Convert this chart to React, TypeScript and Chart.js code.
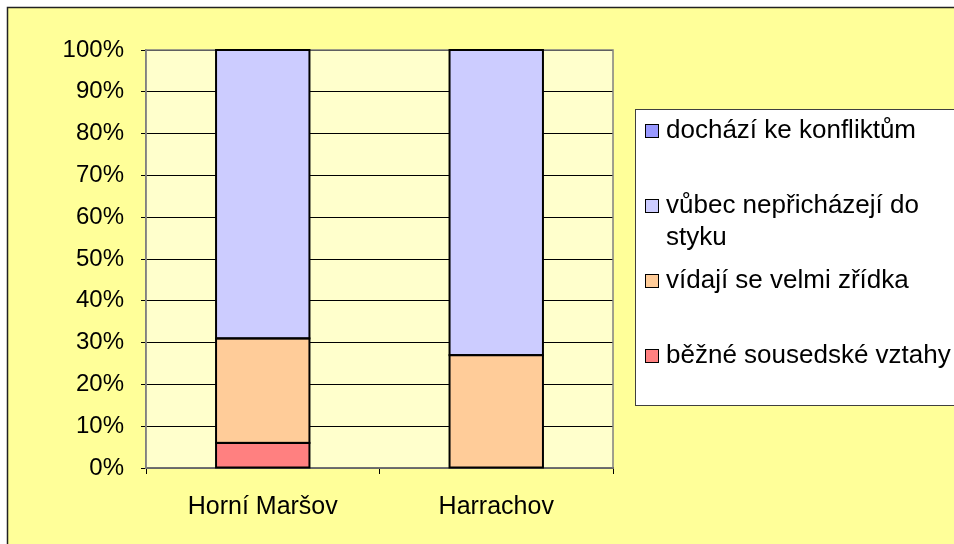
import React, { useEffect, useRef } from "react";
import { Chart, registerables } from "chart.js";

Chart.register(...registerables);

const categories = ["Horní Maršov", "Harrachov"];
const seriesNames = [
  "běžné sousedské vztahy",
  "vídají se velmi zřídka",
  "vůbec nepřicházejí do styku",
  "dochází ke konfliktům",
];
const bezne = [6, 0];
const vidaji = [25, 27];
const vubec = [69, 73];
const dochazi = [0, 0];
const seriesColors = ["#FF8080", "#FFCC99", "#CCCCFF", "#9999FF"];
const yTicks = [0, 10, 20, 30, 40, 50, 60, 70, 80, 90, 100];

const FONT = "'Liberation Sans', Arial, sans-serif";

const bgPlugin = {
  id: "bgPlugin",
  beforeDraw(chart: any) {
    const { ctx, width, height, chartArea } = chart;
    ctx.save();
    ctx.fillStyle = "#FFFFFF";
    ctx.fillRect(0, 0, width, height);
    ctx.fillStyle = "#FFFF99";
    ctx.fillRect(7, 7, width - 7, height - 7);
    ctx.strokeStyle = "#222222";
    ctx.lineWidth = 1.5;
    ctx.beginPath();
    ctx.moveTo(7.5, height + 2);
    ctx.lineTo(7.5, 7.5);
    ctx.lineTo(width + 2, 7.5);
    ctx.stroke();
    ctx.fillStyle = "#FFFFCC";
    ctx.fillRect(chartArea.left, chartArea.top, chartArea.right - chartArea.left, chartArea.bottom - chartArea.top);
    ctx.restore();
  },
  beforeDatasetsDraw(chart: any) {
    const { ctx, chartArea } = chart;
    ctx.save();
    ctx.strokeStyle = "#808080";
    ctx.lineWidth = 1.5;
    ctx.strokeRect(chartArea.left, chartArea.top, chartArea.right - chartArea.left, chartArea.bottom - chartArea.top);
    ctx.restore();
  },
  afterDatasetsDraw(chart: any) {
    const { ctx } = chart;
    ctx.save();
    ctx.strokeStyle = "#000";
    ctx.lineWidth = 2;
    chart.data.datasets.forEach((_: any, i: number) => {
      const meta = chart.getDatasetMeta(i);
      meta.data.forEach((bar: any) => {
        const top = Math.min(bar.y, bar.base);
        const h = Math.abs(bar.base - bar.y);
        if (h < 0.5) return;
        ctx.strokeRect(bar.x - bar.width / 2, top, bar.width, h);
      });
    });
    ctx.restore();
  },
};

const legendPlugin = {
  id: "customLegend",
  afterDraw(chart: any) {
    const { ctx } = chart;
    const boxL = 635.5, boxT = 109.5, boxB = 405.5;
    ctx.save();
    ctx.fillStyle = "#FFFFFF";
    ctx.fillRect(boxL, boxT, 400, boxB - boxT);
    ctx.strokeStyle = "#404040";
    ctx.lineWidth = 1;
    ctx.strokeRect(boxL, boxT, 400, boxB - boxT);
    ctx.font = `26px ${FONT}`;
    ctx.textBaseline = "middle";
    ctx.fillStyle = "#000";
    const ds = chart.data.datasets;
    const maxW = 285;
    for (let k = 0; k < ds.length; k++) {
      const d = ds[ds.length - 1 - k];
      const cy = 131 + k * 75;
      ctx.fillStyle = d.backgroundColor;
      ctx.fillRect(645.5, cy - 6.5, 13, 13);
      ctx.strokeStyle = "#000";
      ctx.lineWidth = 1;
      ctx.strokeRect(645.5, cy - 6.5, 13, 13);
      ctx.fillStyle = "#000";
      const words = String(d.label).split(" ");
      const lines: string[] = [];
      let cur = "";
      for (const w of words) {
        const t = cur ? cur + " " + w : w;
        if (ctx.measureText(t).width > maxW && cur) {
          lines.push(cur);
          cur = w;
        } else cur = t;
      }
      if (cur) lines.push(cur);
      lines.forEach((ln, i) => ctx.fillText(ln, 666, cy + i * 32));
    }
    ctx.restore();
  },
};

export default function App() {
  const ref = useRef<HTMLCanvasElement>(null);
  useEffect(() => {
    if (!ref.current) return;
    const values = [bezne, vidaji, vubec, dochazi];
    const chart = new Chart(ref.current, {
      type: "bar",
      data: {
        labels: categories,
        datasets: seriesNames.map((n, i) => ({
          label: n,
          data: values[i],
          backgroundColor: seriesColors[i],
          borderWidth: 0,
          barPercentage: 0.4,
          categoryPercentage: 1,
        })),
      },
      options: {
        animation: false,
        responsive: false,
        layout: { padding: { left: 0, top: 50, right: 341, bottom: 0 } },
        plugins: { legend: { display: false }, tooltip: { enabled: false } },
        scales: {
          x: {
            stacked: true,
            afterFit: (s: any) => { s.height = 76; },
            grid: { offset: true, drawOnChartArea: false, drawTicks: true, tickLength: 6, color: "#000", tickColor: "#000" },
            border: { display: true, color: "#404040", width: 1.5 },
            ticks: { color: "#000", font: { family: FONT, size: 25 }, padding: 18 },
          },
          y: {
            stacked: true,
            min: 0,
            max: 100,
            afterFit: (s: any) => { s.width = 146; },
            afterBuildTicks: (s: any) => { s.ticks = yTicks.map((v) => ({ value: v })); },
            grid: { color: "#000", tickColor: "#000", tickLength: 5, lineWidth: 1 },
            border: { display: true, color: "#808080", width: 1.5 },
            ticks: { color: "#000", font: { family: FONT, size: 24 }, padding: 17, callback: (v: any) => v + "%" },
          },
        },
      },
      plugins: [bgPlugin, legendPlugin],
    });
    return () => chart.destroy();
  }, []);
  return (
    <div style={{ position: "fixed", left: 0, top: 0, width: 954, height: 544 }}>
      <canvas ref={ref} width={954} height={544} style={{ display: "block", width: 954, height: 544 }} />
    </div>
  );
}
